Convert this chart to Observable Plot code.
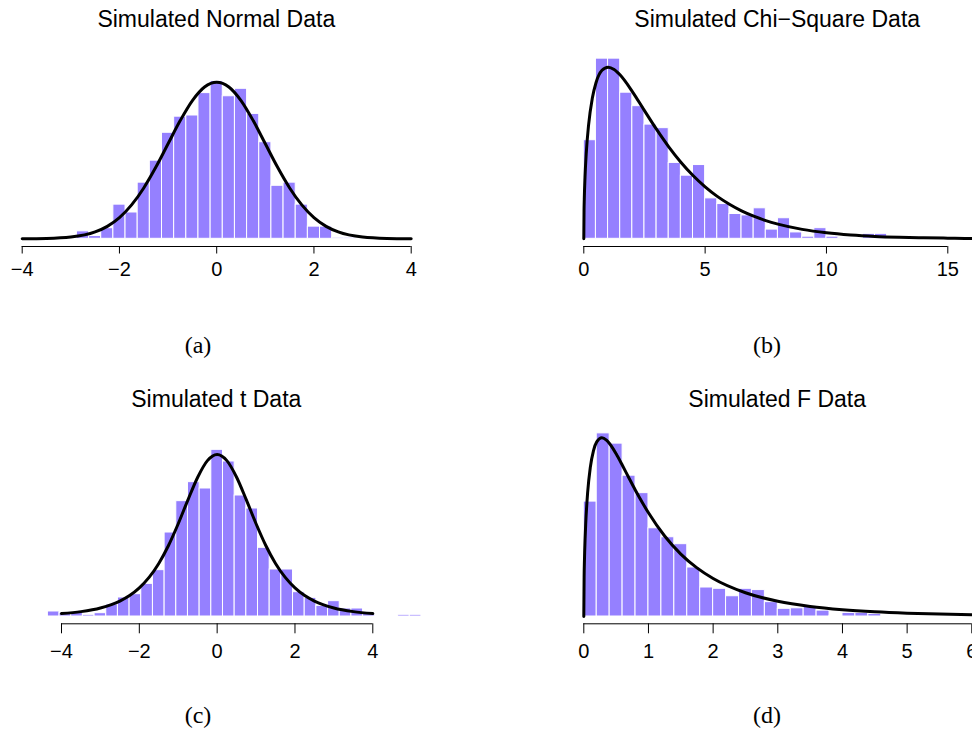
<!DOCTYPE html>
<html>
<head>
<meta charset="utf-8">
<script src="https://cdn.jsdelivr.net/npm/d3@7"></script>
<script src="https://cdn.jsdelivr.net/npm/@observablehq/plot@0.6"></script>
<style>
  html, body { margin: 0; padding: 0; background: #fff; overflow: hidden; }
  #fig { position: relative; width: 972px; height: 738px; overflow: hidden; background: #fff; }
  .panel { position: absolute; }
</style>
</head>
<body>
<div id="fig"></div>
<script>
// ---------------- DATA ----------------
const titles = ["Simulated Normal Data", "Simulated Chi\u2212Square Data", "Simulated t Data", "Simulated F Data"];
const captions = ["(a)", "(b)", "(c)", "(d)"];

// (a) Normal: histogram densities, bins of width 0.25 starting at -2.875
const normalBinStart = -2.875;
const normalBinWidth = 0.25;
const normalDensity = [0.019, 0.007, 0.027, 0.087, 0.067, 0.143, 0.199, 0.270, 0.311, 0.314, 0.371, 0.402,
                       0.363, 0.382, 0.318, 0.246, 0.135, 0.143, 0.087, 0.031, 0.031, 0.003, 0.003];
const normalTicks = [-4, -2, 0, 2, 4];
const normalCurveX = [-4, -3.5, -3, -2.5, -2.25, -2, -1.75, -1.5, -1.25, -1, -0.75, -0.5, -0.25, 0,
                      0.25, 0.5, 0.75, 1, 1.25, 1.5, 1.75, 2, 2.25, 2.5, 3, 3.5, 4];
const normalCurveY = [0.0001, 0.0009, 0.0044, 0.0175, 0.0317, 0.0540, 0.0863, 0.1295, 0.1826, 0.2420, 0.3011, 0.3521, 0.3867, 0.3989,
                      0.3867, 0.3521, 0.3011, 0.2420, 0.1826, 0.1295, 0.0863, 0.0540, 0.0317, 0.0175, 0.0044, 0.0009, 0.0001];

// (b) Chi-square: bins of width 0.5 starting at 0
const chisqBinStart = 0;
const chisqBinWidth = 0.5;
const chisqDensity = [0.139, 0.254, 0.254, 0.206, 0.187, 0.161, 0.156, 0.107, 0.089, 0.104, 0.057, 0.049, 0.035,
                      0.033, 0.043, 0.013, 0.029, 0.009, 0.003, 0.015, 0.003, 0.001, 0, 0.007, 0.007];
const chisqTicks = [0, 5, 10, 15];
const chisqCurveX = [0, 0.01, 0.02, 0.05, 0.1, 0.2, 0.35, 0.5, 0.75, 1, 1.25, 1.5, 2, 2.5, 3, 3.5, 4, 4.5, 5,
                     5.5, 6, 6.5, 7, 7.5, 8, 9, 10, 11, 12, 13, 14, 15, 16, 16.3];
const chisqCurveY = [0, 0.0397, 0.0559, 0.0870, 0.1200, 0.1614, 0.1981, 0.2197, 0.2375, 0.2420, 0.2388, 0.2308, 0.2076,
                     0.1807, 0.1542, 0.1297, 0.1080, 0.0892, 0.0732, 0.0598, 0.0487, 0.0394, 0.0319, 0.0257, 0.0207,
                     0.0133, 0.0085, 0.0054, 0.0034, 0.0022, 0.0014, 0.0009, 0.0005, 0.0005];

// (c) t: bins of width 0.3 starting at -4.35
const tBinStart = -4.35;
const tBinWidth = 0.3;
const tDensity = [0.0116, 0.0085, 0.0085, 0.0039, 0.0077, 0.0278, 0.044, 0.0517, 0.0756, 0.1073, 0.1944, 0.267,
                  0.311, 0.2963, 0.3858, 0.3588, 0.2801, 0.25, 0.159, 0.1088, 0.1088, 0.0563, 0.0432, 0.0247,
                  0.0355, 0.0185, 0.0185, 0.0062, 0, 0, 0.0039, 0.0039];
const tTicks = [-4, -2, 0, 2, 4];
const tCurveX = [-4, -3.5, -3, -2.5, -2.25, -2, -1.75, -1.5, -1.25, -1, -0.75, -0.5, -0.25, 0,
                 0.25, 0.5, 0.75, 1, 1.25, 1.5, 1.75, 2, 2.25, 2.5, 3, 3.5, 4];
const tCurveY = [0.0067, 0.0113, 0.0197, 0.0357, 0.0485, 0.0663, 0.0905, 0.1229, 0.1644, 0.2147, 0.2699, 0.3223, 0.3608, 0.3750,
                 0.3608, 0.3223, 0.2699, 0.2147, 0.1644, 0.1229, 0.0905, 0.0663, 0.0485, 0.0357, 0.0197, 0.0113, 0.0067];

// (d) F: bins of width 0.2 starting at 0
const fBinStart = 0;
const fBinWidth = 0.2;
const fDensity = [0.448, 0.714, 0.674, 0.549, 0.481, 0.344, 0.309, 0.282, 0.191, 0.113, 0.108, 0.079,
                  0.108, 0.103, 0.056, 0.030, 0.032, 0.039, 0.023, 0.003, 0.014, 0.014, 0.010];
const fTicks = [0, 1, 2, 3, 4, 5, 6];
const fCurveX = [0, 0.005, 0.01, 0.02, 0.03, 0.06, 0.1, 0.15, 0.2, 0.28, 0.35, 0.4, 0.5, 0.6, 0.7, 0.8, 0.9, 1,
                 1.25, 1.5, 1.75, 2, 2.5, 3, 3.5, 4, 4.5, 5, 5.5, 6, 6.2];
const fCurveY = [0, 0.1557, 0.2181, 0.3025, 0.3634, 0.4851, 0.5804, 0.6471, 0.6810, 0.6968, 0.6875, 0.6734, 0.6341,
                 0.5875, 0.5391, 0.4914, 0.4463, 0.4042, 0.3138, 0.2434, 0.1894, 0.1482, 0.0926, 0.0594, 0.0392,
                 0.0265, 0.0183, 0.0129, 0.0093, 0.0068, 0.0060];

// ---------------- LAYOUT ----------------
const BAR = "#9580ff";
const PW = 486, PH = 300;
const FONT = "'Liberation Sans', Arial, Helvetica, sans-serif";
const SERIF = "'Liberation Serif', 'DejaVu Serif', serif";

const panels = [
  {left: 0,   top: 0,   start: normalBinStart, width: normalBinWidth, dens: normalDensity, ticks: normalTicks,
   cx: normalCurveX, cy: normalCurveY, xDomain: [-4, 4], xRange: [21.7, 410.7], yDomain: [0, 0.4], pxPerUnit: 392.7,
   base: 238.3, axis: 246, tickSize: 7.5, tickPadding: 8.2},
  {left: 486, top: 0,   start: chisqBinStart, width: chisqBinWidth, dens: chisqDensity, ticks: chisqTicks,
   cx: chisqCurveX, cy: chisqCurveY, xDomain: [0, 15], xRange: [97.3, 461.3], yDomain: [0, 0.25], pxPerUnit: 709.3,
   base: 238.3, axis: 246, tickSize: 7.5, tickPadding: 8.2},
  {left: 0,   top: 380, start: tBinStart, width: tBinWidth, dens: tDensity, ticks: tTicks,
   cx: tCurveX, cy: tCurveY, xDomain: [-4, 4], xRange: [61, 372.3], yDomain: [0, 0.375], pxPerUnit: 432,
   base: 236, axis: 243.3, tickSize: 10, tickPadding: 10},
  {left: 486, top: 380, start: fBinStart, width: fBinWidth, dens: fDensity, ticks: fTicks,
   cx: fCurveX, cy: fCurveY, xDomain: [0, 6], xRange: [97.3, 485.3], yDomain: [0, 0.7], pxPerUnit: 256.5,
   base: 236, axis: 243.3, tickSize: 10, tickPadding: 10}
];

const fmt = d => (d < 0 ? "\u2212" + Math.abs(d) : String(d));
const fig = document.getElementById("fig");

panels.forEach(p => {
  const bins = p.dens.map((d, i) => ({x1: p.start + i * p.width, x2: p.start + (i + 1) * p.width, d}));
  const curve = p.cx.map((x, i) => ({x, y: p.cy[i]}));
  const chart = Plot.plot({
    width: PW,
    height: PH,
    marginTop: 0, marginLeft: 0, marginRight: 0,
    marginBottom: PH - p.axis,
    x: {domain: p.xDomain, range: p.xRange},
    y: {domain: p.yDomain, range: [p.base, p.base - p.yDomain[1] * p.pxPerUnit], axis: null},
    style: {fontFamily: FONT, fontSize: "20px", background: "transparent", overflow: "visible", color: "black"},
    marks: [
      Plot.rect(bins, {x1: "x1", x2: "x2", y1: () => 0, y2: "d", fill: BAR, stroke: "white", strokeWidth: 1}),
      Plot.line(curve, {x: "x", y: "y", stroke: "black", strokeWidth: 3, curve: "monotone-x"}),
      Plot.ruleY([0], {x1: p.ticks[0], x2: p.ticks[p.ticks.length - 1], dy: p.axis - p.base, stroke: "black", strokeWidth: 1}),
      Plot.axisX({ticks: p.ticks, tickSize: p.tickSize, tickPadding: p.tickPadding, tickFormat: fmt,
                  label: null, fontSize: 20, stroke: "black", fill: "black"})
    ]
  });
  chart.classList.add("panel");
  chart.style.left = p.left + "px";
  chart.style.top = p.top + "px";
  fig.appendChild(chart);
});

// Titles and sub-captions
const overlay = d3.create("svg")
  .attr("width", 972).attr("height", 738)
  .style("position", "absolute").style("left", "0px").style("top", "0px")
  .style("pointer-events", "none");
const titlePos = [[216.3, 27.3], [777.2, 27.3], [216.3, 406.7], [777.2, 406.7]];
const capPos = [[198, 353], [767, 353], [198, 723], [767, 723]];
overlay.selectAll("text.title").data(titles).join("text")
  .attr("class", "title")
  .attr("x", (d, i) => titlePos[i][0]).attr("y", (d, i) => titlePos[i][1])
  .attr("text-anchor", "middle").attr("font-family", FONT).attr("font-size", 23).attr("fill", "black")
  .text(d => d);
overlay.selectAll("text.cap").data(captions).join("text")
  .attr("class", "cap")
  .attr("x", (d, i) => capPos[i][0]).attr("y", (d, i) => capPos[i][1])
  .attr("text-anchor", "middle").attr("font-family", SERIF).attr("font-size", 24).attr("fill", "black")
  .text(d => d);
fig.appendChild(overlay.node());
</script>
</body>
</html>
